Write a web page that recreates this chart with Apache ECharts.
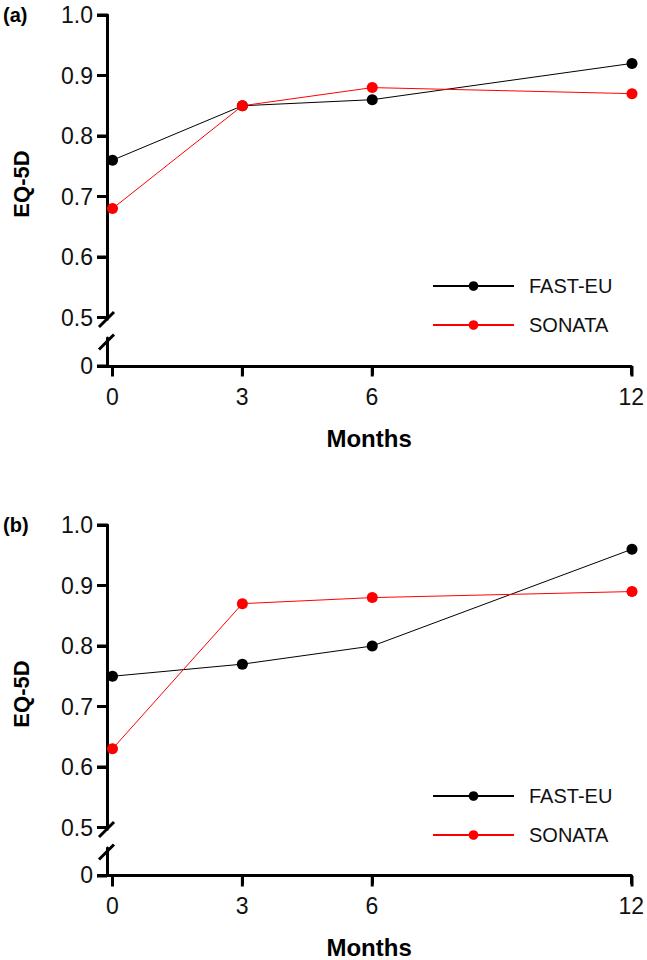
<!DOCTYPE html>
<html>
<head>
<meta charset="utf-8">
<script src="https://cdn.jsdelivr.net/npm/echarts@6/dist/echarts.min.js"></script>
<style>
html,body{margin:0;padding:0;background:#fff;}
#c{width:647px;height:960px;}
</style>
</head>
<body>
<div id="c"></div>
<script>
// ---- data ----
var months = [0, 3, 6, 12];
var xTicks = [0, 3, 6, 12];
var yTicksUpper = [0.5, 0.6, 0.7, 0.8, 0.9, 1.0];
var yTicksLower = [0];
var seriesNames = ['FAST-EU', 'SONATA'];
var panelLabels = ['(a)', '(b)'];
var fastEU_a = [0.76, 0.85, 0.86, 0.92];
var sonata_a = [0.68, 0.85, 0.88, 0.87];
var fastEU_b = [0.75, 0.77, 0.80, 0.96];
var sonata_b = [0.63, 0.87, 0.88, 0.89];
var xTitle = 'Months';
var yTitle = 'EQ-5D';

// ---- layout ----
var FONT = 'Liberation Sans, Arial, Helvetica, sans-serif';
var colors = ['#000000', '#ff0000'];
var panelOffsets = [0, 510];
var W = 647;
var left = 107, right = 15;
var upperTop = 15, upperH = 302.5, lowerTop = 338, lowerH = 28;
var xMin = -0.127, xMax = 12, yMinU = 0.5, yMaxU = 1.0;
var tickLenY = 10, tickLenX = 9, axisW = 3;
var plotW = W - left - right;

var chart = echarts.init(document.getElementById('c'), null, {renderer: 'svg'});

function pairs(vals) { return months.map(function (m, i) { return [m, vals[i]]; }); }
var panelData = [[fastEU_a, sonata_a], [fastEU_b, sonata_b]];

var grids = [], xAxes = [], yAxes = [], series = [], legends = [], graphics = [];

function rect(x, y, w, h) {
  return {type: 'rect', shape: {x: x, y: y, width: w, height: h}, style: {fill: '#000'}, z: 10, silent: true};
}

panelOffsets.forEach(function (dy, p) {
  var gU = grids.length;
  grids.push({left: left, right: right, top: upperTop + dy, height: upperH});
  grids.push({left: left, right: right, top: lowerTop + dy, height: lowerH});
  xAxes.push({type: 'value', gridIndex: gU, min: xMin, max: xMax,
    axisLine: {show: false, onZero: false}, axisTick: {show: false}, axisLabel: {show: false}, splitLine: {show: false}});
  xAxes.push({
    type: 'value', gridIndex: gU + 1, min: xMin, max: xMax,
    axisLine: {show: true, onZero: false, lineStyle: {color: '#000', width: axisW}},
    axisTick: {show: true, customValues: xTicks, length: tickLenX, lineStyle: {color: '#000', width: axisW}},
    axisLabel: {show: true, customValues: xTicks, fontSize: 23, fontFamily: FONT, color: '#111', margin: 19},
    splitLine: {show: false},
    name: xTitle, nameLocation: 'middle', nameGap: 60,
    nameTextStyle: {fontSize: 24, fontWeight: 'bold', fontFamily: FONT, color: '#000'}
  });
  yAxes.push({
    type: 'value', gridIndex: gU, min: yMinU, max: yMaxU, interval: 0.1,
    axisLine: {show: true, onZero: false, lineStyle: {color: '#000', width: axisW}},
    axisTick: {show: true, length: tickLenY, lineStyle: {color: '#000', width: axisW}},
    axisLabel: {fontSize: 23, fontFamily: FONT, color: '#111', margin: 14,
      formatter: function (v) { return v.toFixed(1); }},
    splitLine: {show: false}
  });
  yAxes.push({
    type: 'value', gridIndex: gU + 1, min: 0, max: 1,
    axisLine: {show: true, onZero: false, lineStyle: {color: '#000', width: axisW}},
    axisTick: {show: true, customValues: yTicksLower, length: tickLenY, lineStyle: {color: '#000', width: axisW}},
    axisLabel: {customValues: yTicksLower, fontSize: 23, fontFamily: FONT, color: '#111', margin: 14,
      formatter: function (v) { return String(v); }},
    splitLine: {show: false}
  });
  panelData[p].forEach(function (vals, s) {
    series.push({
      name: seriesNames[s], type: 'line', xAxisIndex: gU, yAxisIndex: gU,
      data: pairs(vals), symbol: 'circle', symbolSize: 11, showSymbol: true,
      lineStyle: {color: colors[s], width: 1}, itemStyle: {color: colors[s]},
      z: 3 + s, animation: false
    });
  });
  legends.push({
    orient: 'vertical', left: 427, top: 271 + dy, itemWidth: 81, itemHeight: 12, itemGap: 19,
    data: seriesNames, selectedMode: false,
    textStyle: {fontSize: 20, fontFamily: FONT, color: '#111', padding: [0, 0, 0, 10]}
  });
  graphics.push({type: 'text', left: 3, top: 5 + dy,
    style: {text: panelLabels[p], font: 'bold 20px ' + FONT, fill: '#000'}});
  graphics.push({type: 'text', x: 21, y: 184 + dy, rotation: Math.PI / 2,
    style: {text: yTitle, font: 'bold 22px ' + FONT, fill: '#000', align: 'center', verticalAlign: 'middle'}});

  var axisY = lowerTop + lowerH + dy;
  // short extension of the upper axis line towards the break
  graphics.push(rect(left - axisW / 2, upperTop + upperH + dy - 1, axisW, 4));
  // tick marks, positioned by the axes' linear scales
  xTicks.forEach(function (v) {
    var px = left + (v - xMin) / (xMax - xMin) * plotW;
    graphics.push(rect(px - axisW / 2, axisY, axisW, tickLenX + axisW / 2));
  });
  yTicksUpper.forEach(function (v) {
    var py = upperTop + dy + (yMaxU - v) / (yMaxU - yMinU) * upperH;
    graphics.push(rect(left - tickLenY, py - axisW / 2, tickLenY, axisW));
  });
  yTicksLower.forEach(function () {
    graphics.push(rect(left - tickLenY, axisY - axisW / 2, tickLenY, axisW));
  });
  // axis break slashes
  var by1 = upperTop + upperH + 2 + dy, by2 = lowerTop + 4 + dy;
  [by1, by2].forEach(function (by) {
    graphics.push({type: 'line', shape: {x1: left - 8, y1: by + 7.5, x2: left + 7, y2: by - 7.5},
      style: {stroke: '#000', lineWidth: axisW}, z: 10});
  });
});

chart.setOption({
  animation: false,
  grid: grids, xAxis: xAxes, yAxis: yAxes, series: series, legend: legends,
  graphic: graphics
});
</script>
</body>
</html>
